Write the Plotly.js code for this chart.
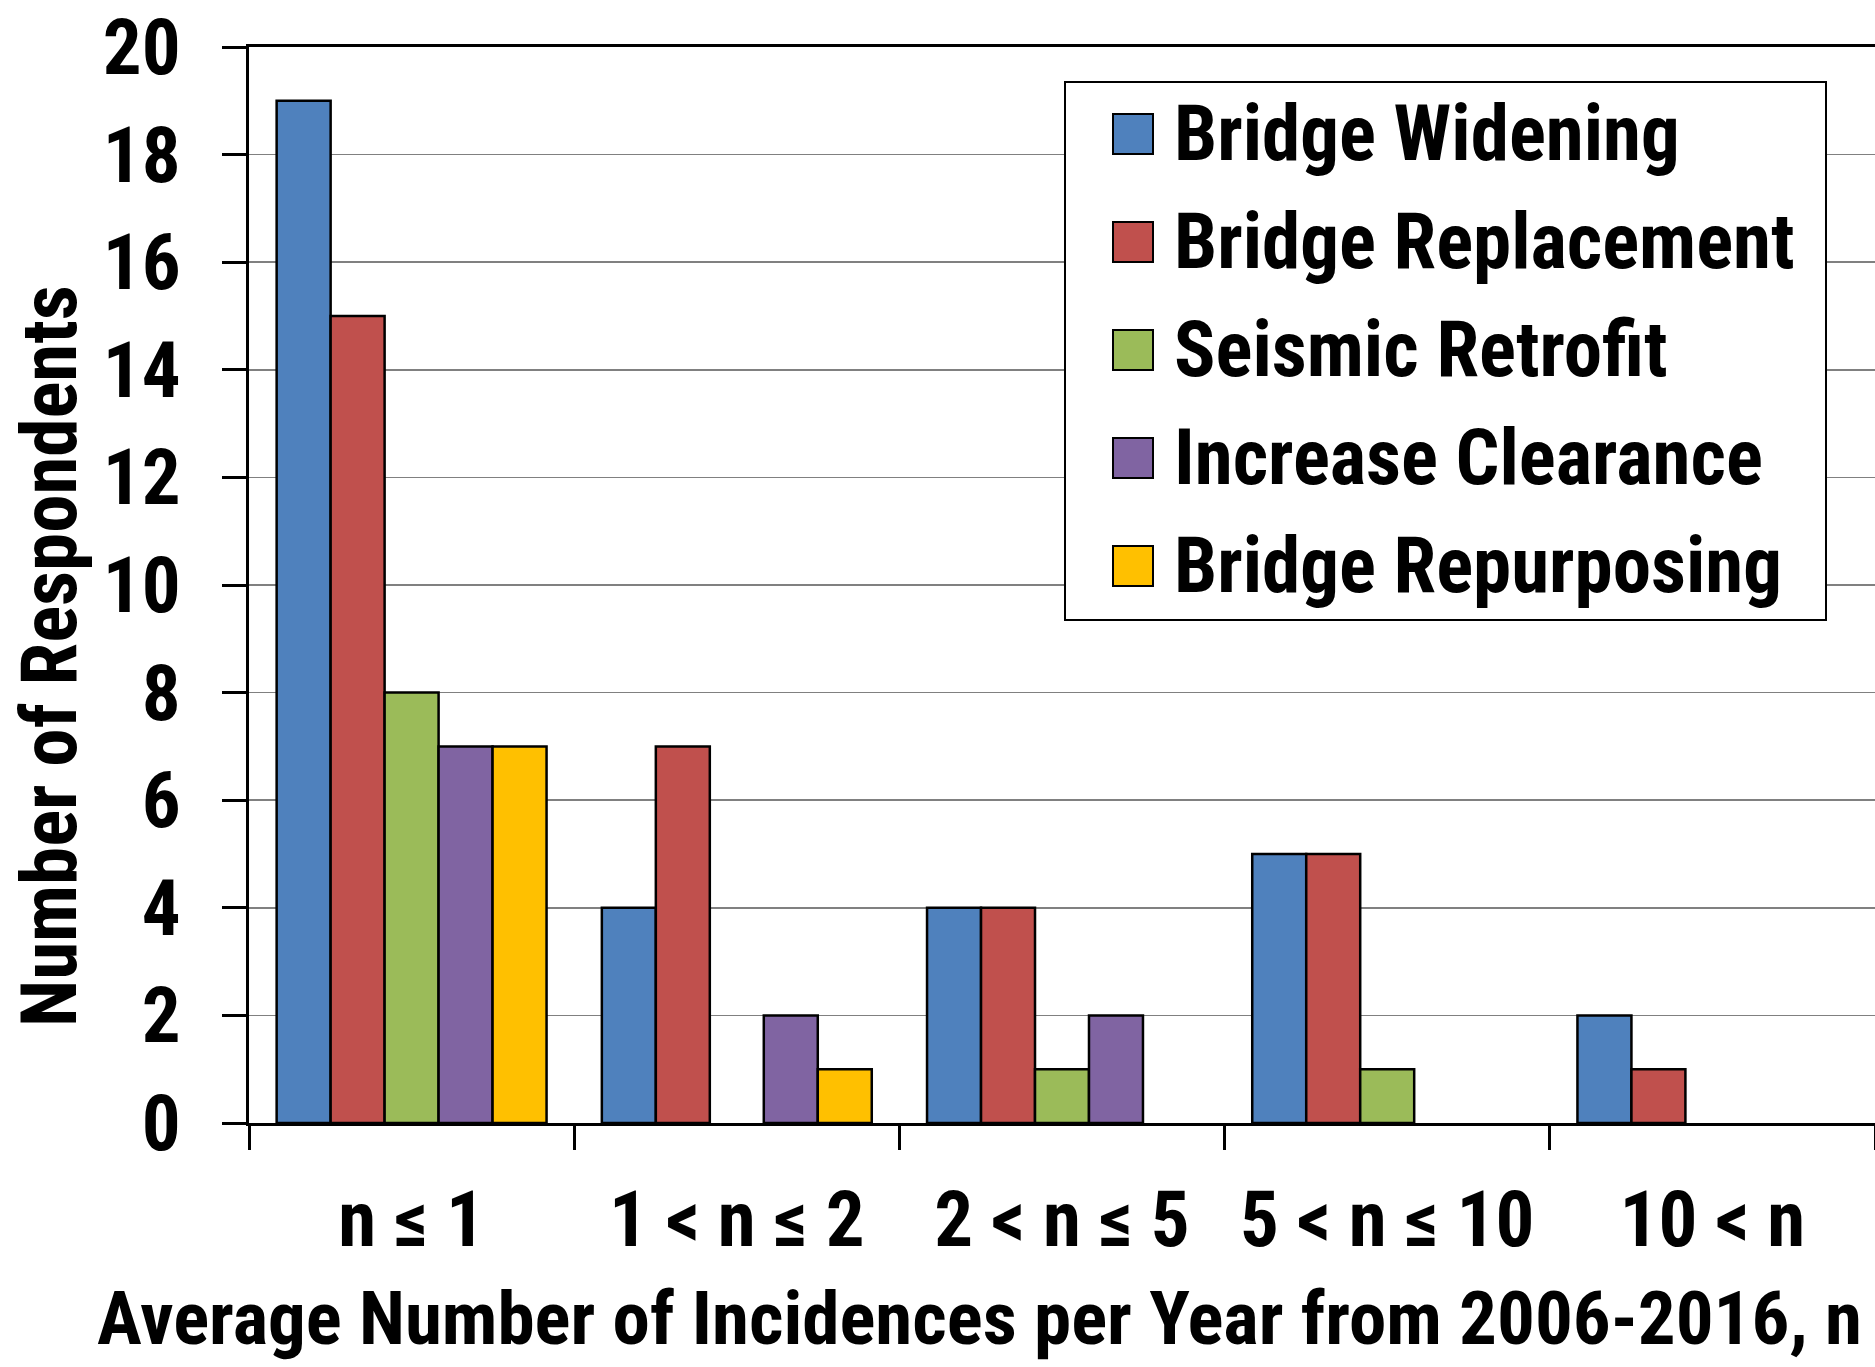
<!DOCTYPE html>
<html>
<head>
<meta charset="utf-8">
<script src="https://cdn.plot.ly/plotly-3.0.1.min.js"></script>
<style>html,body{margin:0;padding:0;background:#fff;}</style>
</head>
<body>
<div id="chart" style="width:1875px;height:1367px;"></div>
<script>
const categories = ["n \u2264 1", "1 < n \u2264 2", "2 < n \u2264 5", "5 < n \u2264 10", "10 < n"];
const seriesNames = ["Bridge Widening", "Bridge Replacement", "Seismic Retrofit", "Increase Clearance", "Bridge Repurposing"];
const bridgeWidening = [19, 4, 4, 5, 2];
const bridgeReplacement = [15, 7, 4, 5, 1];
const seismicRetrofit = [8, 0, 1, 1, 0];
const increaseClearance = [7, 2, 2, 0, 0];
const bridgeRepurposing = [7, 1, 0, 0, 0];
const seriesColors = ["#4F81BD", "#C0504D", "#9BBB59", "#8064A2", "#FFC000"];
const yTickVals = [0, 2, 4, 6, 8, 10, 12, 14, 16, 18, 20];
const xTitle = "Average Number of Incidences per Year from 2006-2016, n";
const yTitle = "Number of Respondents";

const seriesValues = [bridgeWidening, bridgeReplacement, seismicRetrofit, increaseClearance, bridgeRepurposing];

const FONT = "'Liberation Sans Narrow', 'Arial Narrow', 'Roboto Condensed', 'Liberation Sans', Arial, sans-serif";
const FS = 77;
const W = 1875, H = 1367;
const M = {l: 249, r: 0, t: 47, b: 244};
const PW = W - M.l - M.r, PH = H - M.t - M.b;
const px2x = p => (p - M.l) / PW;
const py2y = p => (H - M.b - p) / PH;

const traces = seriesNames.map((name, i) => ({
  type: 'bar',
  name: name,
  x: categories,
  y: seriesValues[i],
  marker: {color: seriesColors[i], line: {color: '#000', width: seriesValues[i].map(v => v === 0 ? 0 : 2.5)}},
  showlegend: false
}));

// Manual legend (large swatches like the original)
const shapes = [{
  type: 'rect', xref: 'paper', yref: 'paper',
  x0: px2x(1065), x1: px2x(1826), y0: py2y(82), y1: py2y(620),
  fillcolor: '#fff', line: {color: '#000', width: 2}, layer: 'above'
}];
const annotations = [];
const legTop = 134, legStep = 108, sw = 40;
seriesNames.forEach((name, i) => {
  const cy = legTop + i * legStep;
  shapes.push({
    type: 'rect', xref: 'paper', yref: 'paper',
    x0: px2x(1113), x1: px2x(1113 + sw), y0: py2y(cy - sw / 2), y1: py2y(cy + sw / 2),
    fillcolor: seriesColors[i], line: {color: '#000', width: 2}, layer: 'above'
  });
  annotations.push({
    xref: 'paper', yref: 'paper', x: px2x(1172), y: py2y(cy),
    xanchor: 'left', yanchor: 'middle', showarrow: false,
    text: '<b>' + name + '</b>', font: {family: FONT, size: FS, color: '#000'}
  });
});
annotations.push({
  xref: 'paper', yref: 'paper', x: px2x(979), y: py2y(1318),
  xanchor: 'center', yanchor: 'middle', showarrow: false,
  text: '<b>' + xTitle + '</b>', font: {family: FONT, size: 75, color: '#000'}
});
annotations.push({
  xref: 'paper', yref: 'paper', x: px2x(50), y: py2y(656),
  xanchor: 'center', yanchor: 'middle', showarrow: false, textangle: -90,
  text: '<b>' + yTitle + '</b>', font: {family: FONT, size: FS, color: '#000'}
});

const layout = {
  width: W, height: H,
  margin: M,
  paper_bgcolor: '#fff', plot_bgcolor: '#fff',
  barmode: 'group', bargap: 0.17, bargroupgap: 0,
  showlegend: false,
  font: {family: FONT, size: FS, color: '#000', weight: 'bold'},
  xaxis: {
    type: 'category', tickson: 'boundaries', ticks: 'outside', ticklen: 24, tickwidth: 3, tickcolor: '#000',
    showline: true, linewidth: 3, linecolor: '#000', mirror: true, showgrid: false,
    tickfont: {family: FONT, size: FS, color: '#000', weight: 'bold'},
    ticklabelstandoff: 28, ticklabeloverflow: 'allow'
  },
  yaxis: {
    range: [0, 20], tickvals: yTickVals, ticks: 'outside', ticklen: 24, tickwidth: 3, tickcolor: '#000',
    showline: true, linewidth: 3, linecolor: '#000', showgrid: true, gridcolor: '#808080', gridwidth: 1.5,
    zeroline: false,
    tickfont: {family: FONT, size: FS, color: '#000', weight: 'bold'},
    ticklabelstandoff: 26, ticklabeloverflow: 'allow'
  },
  shapes: shapes,
  annotations: annotations
};

Plotly.newPlot('chart', traces, layout, {staticPlot: true});
</script>
</body>
</html>
